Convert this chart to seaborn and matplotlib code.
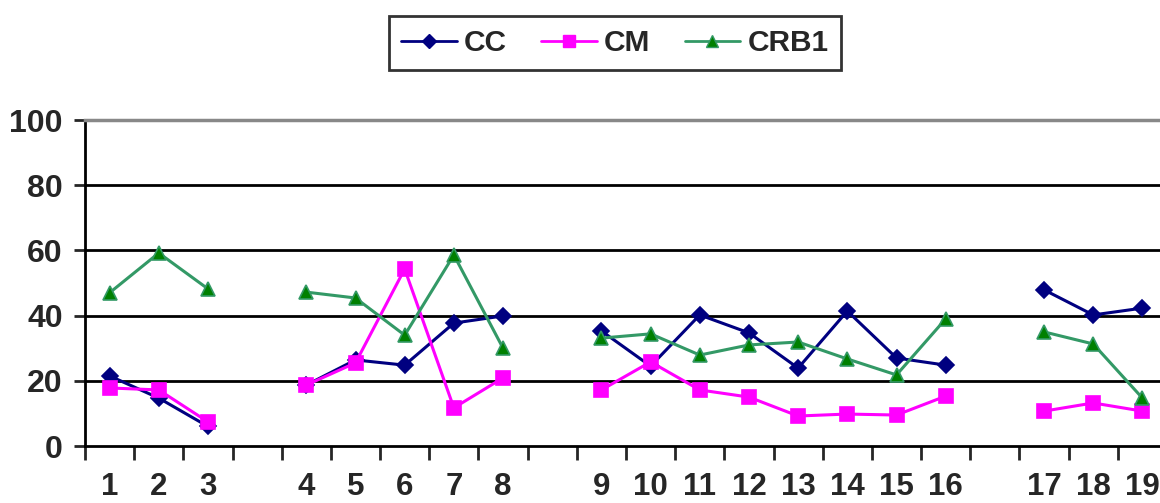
import numpy as np
import pandas as pd
import matplotlib
matplotlib.use("Agg")
import matplotlib.pyplot as plt
from matplotlib.lines import Line2D
import seaborn as sns

# Sample labels; None marks an empty spacer slot between groups
slots = ["1", "2", "3", None, "4", "5", "6", "7", "8", None,
         "9", "10", "11", "12", "13", "14", "15", "16", None,
         "17", "18", "19"]

cc = [21.5, 14.7, 6.0, 18.7, 26.4, 24.8, 37.7, 39.9,
      35.3, 24.5, 40.2, 34.7, 23.9, 41.4, 27.0, 24.8,
      47.9, 40.2, 42.3]
cm = [17.8, 17.2, 7.4, 18.7, 25.5, 54.3, 11.7, 20.9,
      17.2, 25.8, 17.2, 15.0, 9.2, 9.8, 9.5, 15.3,
      10.7, 13.2, 10.7]
crb1 = [47.0, 59.2, 48.2, 47.2, 45.4, 34.0, 58.6, 30.0,
        33.1, 34.4, 27.9, 31.0, 31.9, 26.7, 21.8, 39.0,
        35.0, 31.3, 14.7]

series = {"CC": cc, "CM": cm, "CRB1": crb1}

# Map each sample to its slot position and group (groups separated by spacers)
pos, grp = [], []
g = 0
for i, lab in enumerate(slots):
    if lab is None:
        g += 1
        continue
    pos.append(i)
    grp.append(g)

rows = []
for name, vals in series.items():
    for p, gg, v in zip(pos, grp, vals):
        rows.append({"x": p, "value": v, "series": name, "group": gg})
df = pd.DataFrame(rows)

sns.set_style("white")
plt.rcParams["font.family"] = ["Liberation Sans", "DejaVu Sans"]
plt.rcParams["font.weight"] = "bold"

fig = plt.figure(figsize=(11.6, 5.03), dpi=100)
ax = fig.add_axes([85 / 1160, (503 - 446) / 503, 1082 / 1160, 326 / 503])

palette = {"CC": "#000080", "CM": "#FF00FF", "CRB1": "#339966"}
markers = {"CC": "D", "CM": "s", "CRB1": "^"}
face = {"CC": "#000080", "CM": "#FF00FF", "CRB1": "#008000"}
msize = {"CC": 8.5, "CM": 10.5, "CRB1": 10.5}

for name in series:
    sub = df[df["series"] == name]
    sns.lineplot(data=sub, x="x", y="value", units="group", estimator=None,
                 color=palette[name], lw=2.2, marker=markers[name],
                 markersize=msize[name], markerfacecolor=face[name],
                 markeredgecolor=palette[name], markeredgewidth=1.2,
                 ax=ax, legend=False, zorder=3)

ax.set_xlim(-0.5, len(slots) - 0.5)
ax.set_ylim(0, 100)

# Gridlines
for yv in [20, 40, 60, 80]:
    ax.axhline(yv, color="black", lw=2, zorder=1)

ax.set_yticks([0, 20, 40, 60, 80, 100])
ax.set_yticklabels(["0", "20", "40", "60", "80", "100"], fontsize=23, fontweight="bold")
ax.tick_params(axis="y", length=8, width=2, direction="out", pad=8, left=True)

ax.set_xticks(np.arange(-0.5, len(slots), 1.0))
ax.set_xticklabels([])
ax.tick_params(axis="x", which="major", length=10, width=2, direction="out", bottom=True)
ax.set_xticks(pos, minor=True)
ax.set_xticklabels([l for l in slots if l is not None], minor=True,
                   fontsize=22.5, fontweight="bold")
ax.tick_params(axis="x", which="minor", length=0, pad=19)

for s in ["left", "bottom"]:
    ax.spines[s].set_color("black")
    ax.spines[s].set_linewidth(2)
ax.spines["top"].set_color("#888888")
ax.spines["top"].set_linewidth(2.5)
ax.spines["right"].set_visible(False)
ax.set_xlabel("")
ax.set_ylabel("")

handles = [Line2D([], [], color=palette[n], lw=2, marker=markers[n],
                  markersize=msize[n] * 0.8, markerfacecolor=face[n],
                  markeredgecolor=palette[n]) for n in series]
leg = fig.legend(handles, list(series), loc="center", bbox_to_anchor=(615 / 1160, 1 - 43 / 503),
                 ncol=3, frameon=True, fancybox=False, prop={"size": 21.5, "weight": "bold"},
                 handlelength=1.85, columnspacing=1.15, handletextpad=0.25,
                 borderpad=0.42, borderaxespad=0)
leg.get_frame().set_edgecolor("black")
leg.get_frame().set_linewidth(2)

fig.savefig("out.png", dpi=100)
